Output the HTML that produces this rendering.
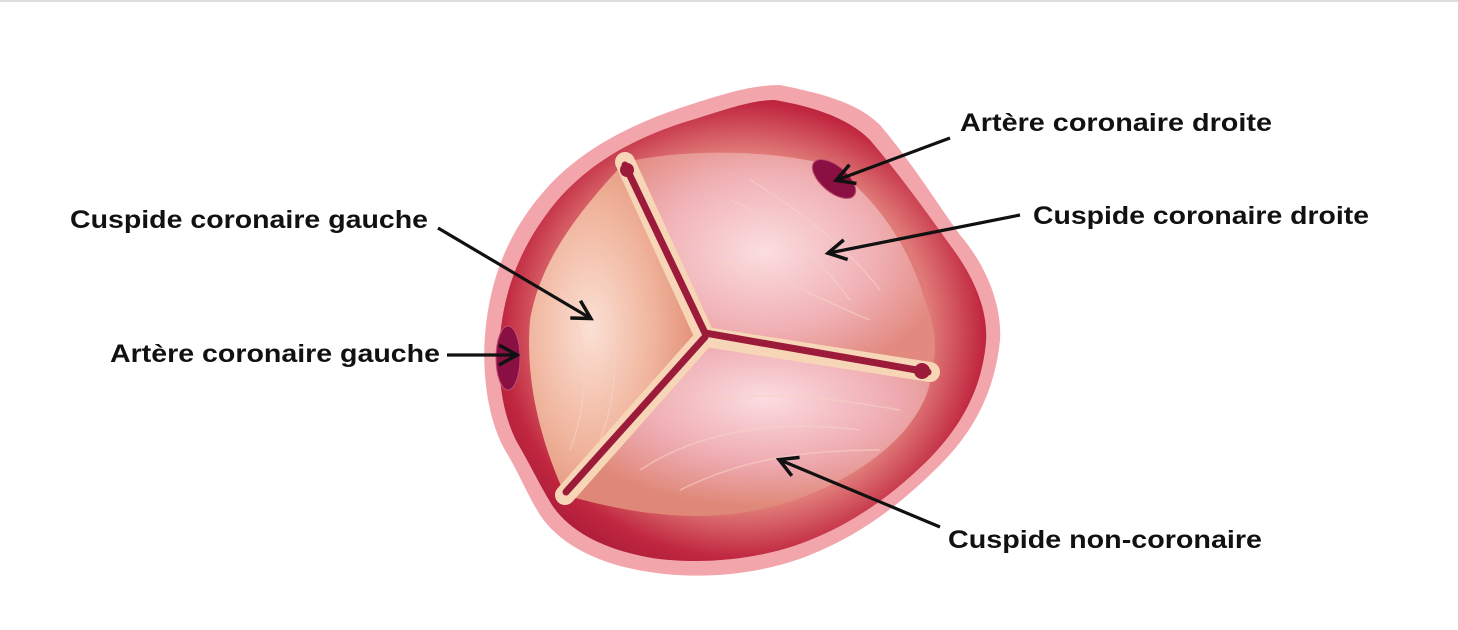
<!DOCTYPE html>
<html><head><meta charset="utf-8"><style>
html,body{margin:0;padding:0;background:#fff;}
svg{display:block;}
text{font-family:"Liberation Sans",Arial,sans-serif;font-weight:bold;font-size:25px;fill:#111;}
</style></head><body>
<svg width="1458" height="630" viewBox="0 0 1458 630" xmlns="http://www.w3.org/2000/svg">
<defs>
<radialGradient id="rim" cx="50%" cy="50%" r="55%">
<stop offset="0.7" stop-color="#e07a78"/><stop offset="0.9" stop-color="#c0263f"/><stop offset="1" stop-color="#b01e3a"/>
</radialGradient>
<radialGradient id="c1" cx="35%" cy="50%" r="60%">
<stop offset="0" stop-color="#fbe0d4"/><stop offset="0.6" stop-color="#f0b49c"/><stop offset="1" stop-color="#e39078"/>
</radialGradient>
<radialGradient id="c2" cx="45%" cy="45%" r="60%">
<stop offset="0" stop-color="#fbdde0"/><stop offset="0.6" stop-color="#f0b0b4"/><stop offset="1" stop-color="#e28a80"/>
</radialGradient>
<radialGradient id="c3" cx="55%" cy="35%" r="60%">
<stop offset="0" stop-color="#fbdce0"/><stop offset="0.6" stop-color="#eeaab0"/><stop offset="1" stop-color="#df8878"/>
</radialGradient>
<marker id="ah2" markerWidth="24" markerHeight="24" refX="19" refY="12" orient="auto" markerUnits="userSpaceOnUse">
<path d="M2,2 L20,12 L2,22" fill="none" stroke="#111" stroke-width="3.5"/>
</marker>
</defs>
<line x1="0" y1="1" x2="1458" y2="1" stroke="#ddd" stroke-width="2"/>
<path d="M780,85 C830,95 860,105 880,125 C910,160 935,200 960,235 C990,270 1002,310 1000,340 C995,390 975,430 940,465 C900,505 860,535 810,555 C760,575 700,580 650,572 C600,565 560,545 540,515 C525,490 520,475 505,450 C488,420 482,375 485,335 C490,275 510,230 545,190 C580,150 630,125 680,108 C720,95 750,85 780,85 Z" fill="#f2a6ac"/>
<path d="M775,100 C820,108 850,120 870,140 C900,175 925,210 950,245 C978,282 988,315 986,342 C982,388 962,425 930,458 C892,496 852,524 805,542 C758,560 700,565 652,558 C605,550 570,532 552,505 C538,482 532,468 518,444 C502,415 497,375 500,337 C505,282 525,240 556,202 C590,162 635,138 685,122 C725,110 750,100 775,100 Z" fill="url(#rim)"/>
<path d="M625,162 C580,210 540,260 530,320 C525,380 540,440 565,495 L705,337 Z" fill="url(#c1)"/>
<path d="M625,162 C680,150 760,148 830,165 C880,200 910,250 925,300 C940,340 935,360 930,372 L705,337 Z" fill="url(#c2)"/>
<path d="M565,495 C600,505 660,520 720,515 C800,510 870,470 905,430 C925,405 932,385 930,372 L705,337 Z" fill="url(#c3)"/>
<g fill="none" stroke="#f7d2c6" stroke-width="1.5" opacity="0.6">
<path d="M560,290 C590,330 590,400 570,450"/><path d="M600,270 C620,320 620,390 600,440"/>
<path d="M730,200 C780,220 820,260 850,300"/><path d="M750,180 C800,210 850,250 880,290"/><path d="M720,260 C770,270 820,300 870,320"/>
<path d="M640,470 C700,430 780,420 860,430"/><path d="M680,490 C740,460 800,450 880,450"/><path d="M720,400 C780,390 840,400 900,410"/>
</g>
<g stroke-linecap="round" fill="none">
<path d="M625,162 L705,337 L930,372 M705,337 L565,495" stroke="#f6d6b6" stroke-width="20"/>
<path d="M625,165 L705,333 L928,372 M705,337 L566,492" stroke="#9c1a3a" stroke-width="7"/>
</g>
<circle cx="627" cy="170" r="7" fill="#9c1a3a"/>
<circle cx="922" cy="371" r="8" fill="#9c1a3a"/>
<ellipse cx="834" cy="179" rx="26" ry="13" transform="rotate(40 834 179)" fill="#8a1044" stroke="#c05070" stroke-width="1"/>
<ellipse cx="508" cy="358" rx="12" ry="32" fill="#8a1044" stroke="#c05070" stroke-width="1"/>
<g stroke="#111" stroke-width="3.2" fill="none">
<line x1="950" y1="138" x2="837" y2="180" marker-end="url(#ah2)"/>
<line x1="1020" y1="215" x2="829" y2="253" marker-end="url(#ah2)"/>
<line x1="438" y1="228" x2="590" y2="318" marker-end="url(#ah2)"/>
<line x1="447" y1="355" x2="516" y2="355" marker-end="url(#ah2)"/>
<line x1="940" y1="527" x2="780" y2="460" marker-end="url(#ah2)"/>
</g>
<text x="960" y="131" textLength="312" lengthAdjust="spacingAndGlyphs">Artère coronaire droite</text>
<text x="1033" y="224" textLength="336" lengthAdjust="spacingAndGlyphs">Cuspide coronaire droite</text>
<text x="70" y="228" textLength="358" lengthAdjust="spacingAndGlyphs">Cuspide coronaire gauche</text>
<text x="110" y="362" textLength="330" lengthAdjust="spacingAndGlyphs">Artère coronaire gauche</text>
<text x="948" y="548" textLength="314" lengthAdjust="spacingAndGlyphs">Cuspide non-coronaire</text>
</svg>
</body></html>
